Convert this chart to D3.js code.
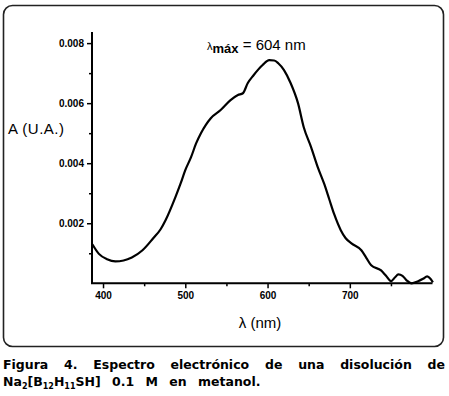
<!DOCTYPE html>
<html>
<head>
<meta charset="utf-8">
<script src="https://cdn.jsdelivr.net/npm/d3@7"></script>
<style>
  html, body { margin: 0; padding: 0; background: #fff; }
  svg { display: block; }
</style>
</head>
<body>
<svg id="chart" width="449" height="396"></svg>
<script>
// spectrum
const wavelength = [387, 395, 405, 415, 425, 435, 448, 461, 470, 476, 488, 494, 500, 507, 513, 519, 525, 531, 543, 555,
  564, 570, 576, 583, 594, 602, 608, 613, 620, 628, 637, 644, 653, 661, 669, 675, 681, 689, 695, 702,
  714, 720, 726, 738, 744, 750, 755, 759, 764, 769, 775, 783, 789, 794, 798, 801]
const absorbance = [0.00130, 0.00098, 0.00080, 0.00073, 0.00076, 0.00086, 0.00110, 0.00150, 0.00180, 0.00210,
  0.00287, 0.00330, 0.00377, 0.00420, 0.00465, 0.00500, 0.00528, 0.00550, 0.00577, 0.00610,
  0.00627, 0.00633, 0.00667, 0.00693, 0.00727, 0.00743, 0.00742, 0.00733, 0.00710, 0.00667,
  0.00600, 0.00520, 0.00453, 0.00387, 0.00330, 0.00280, 0.00230, 0.00177, 0.00150, 0.00133,
  0.00110, 0.00085, 0.00060, 0.00043, 0.00025, 0.00007, 0.00020, 0.00030, 0.00025, 0.00010,
  0.00000, 0.00007, 0.00015, 0.00023, 0.00015, 0.00003]

const xTicks = [400, 500, 600, 700]
const xMinor = [450, 550, 650, 750]
const yTicks = [0.002, 0.004, 0.006, 0.008]
const yMinor = [0.001, 0.003, 0.005, 0.007]

const captionLine1 = ["Figura", "4.", "Espectro", "electrónico", "de", "una", "disolución", "de"]

const svg = d3.select("#chart")

// frame
svg.append("rect")
  .attr("x", 3.5).attr("y", 5.5)
  .attr("width", 440).attr("height", 341)
  .attr("rx", 9).attr("ry", 9)
  .attr("fill", "none")
  .attr("stroke", "#222")
  .attr("stroke-width", 1.6)

const plot = { left: 92, right: 432.5, top: 32, bottom: 283.3 }

const x = d3.scaleLinear()
  .domain([386.6, 800.5])
  .range([plot.left, plot.right])

const y = d3.scaleLinear()
  .domain([0, 0.00837])
  .range([plot.bottom, plot.top])

const tickFont = "bold 10px 'Liberation Sans', Arial, sans-serif"

// x axis
const xAxis = svg.append("g")
  .attr("transform", `translate(0,${plot.bottom})`)
xAxis.call(d3.axisBottom(x).tickValues(xTicks).tickSize(5).tickPadding(4).tickFormat(d3.format("d")))
xAxis.append("g")
  .call(d3.axisBottom(x).tickValues(xMinor).tickSize(3).tickFormat(""))
xAxis.selectAll(".domain").remove()
xAxis.selectAll("line").attr("stroke", "#000").attr("stroke-width", 1.5)
xAxis.selectAll("text").style("font", tickFont).attr("fill", "#000")

// y axis
const yAxis = svg.append("g")
  .attr("transform", `translate(${plot.left},0)`)
yAxis.call(d3.axisLeft(y).tickValues(yTicks).tickSize(5).tickPadding(3).tickFormat(d3.format(".3f")))
yAxis.append("g")
  .call(d3.axisLeft(y).tickValues(yMinor).tickSize(3).tickFormat(""))
yAxis.selectAll(".domain").remove()
yAxis.selectAll("line").attr("stroke", "#000").attr("stroke-width", 1.5)
yAxis.selectAll("text").style("font", tickFont).attr("fill", "#000")

// axis lines
svg.append("path")
  .attr("d", `M${plot.left},${plot.top}V${plot.bottom}H${plot.right}`)
  .attr("fill", "none")
  .attr("stroke", "#000")
  .attr("stroke-width", 2)

// spectrum
const pts = wavelength.map((w, i) => [w, absorbance[i]])
svg.append("path")
  .datum(pts)
  .attr("d", d3.line()
    .x(d => x(d[0]))
    .y(d => y(d[1]))
    .curve(d3.curveMonotoneX))
  .attr("fill", "none")
  .attr("stroke", "#000")
  .attr("stroke-width", 2.2)
  .attr("stroke-linejoin", "round")

// axis labels
const labFont = "15px 'Liberation Sans', Arial, sans-serif"
svg.append("text")
  .attr("x", 8).attr("y", 134)
  .style("font", labFont)
  .style("letter-spacing", "0.5px")
  .text("A (U.A.)")

svg.append("text")
  .attr("x", 260).attr("y", 328)
  .attr("text-anchor", "middle")
  .style("font", labFont)
  .text("λ (nm)")

// lambda max annotation
const ann = svg.append("text")
  .attr("x", 207).attr("y", 50)
  .style("font", labFont)
ann.append("tspan").style("font-size", "11px").text("λ")
ann.append("tspan").attr("dy", 3).style("font-weight", "bold").style("font-size", "13px").text("máx")
ann.append("tspan").attr("dy", -3).text(" = 604 nm")

// caption
const capFont = "bold 12.5px 'DejaVu Sans', sans-serif"
const cap1 = svg.append("g")
const words = cap1.selectAll("text")
  .data(captionLine1)
  .join("text")
  .attr("y", 369)
  .style("font", capFont)
  .text(d => d)
const widths = []
words.each(function() { widths.push(this.getComputedTextLength()) })
const capLeft = 3, capRight = 445
const gap = (capRight - capLeft - d3.sum(widths)) / (widths.length - 1)
let cx = capLeft
words.each(function(d, i) {
  d3.select(this).attr("x", cx)
  cx += widths[i] + gap
})

const cap2 = svg.append("text")
  .attr("x", 3).attr("y", 386)
  .style("font", capFont)
  .style("word-spacing", "7px")
  .attr("xml:space", "preserve")
cap2.append("tspan").text("Na")
cap2.append("tspan").attr("dy", 3).style("font-size", "8px").text("2")
cap2.append("tspan").attr("dy", -3).text("[B")
cap2.append("tspan").attr("dy", 3).style("font-size", "8px").text("12")
cap2.append("tspan").attr("dy", -3).text("H")
cap2.append("tspan").attr("dy", 3).style("font-size", "8px").text("11")
cap2.append("tspan").attr("dy", -3).text("SH] 0.1 M en metanol.")
</script>
</body>
</html>
